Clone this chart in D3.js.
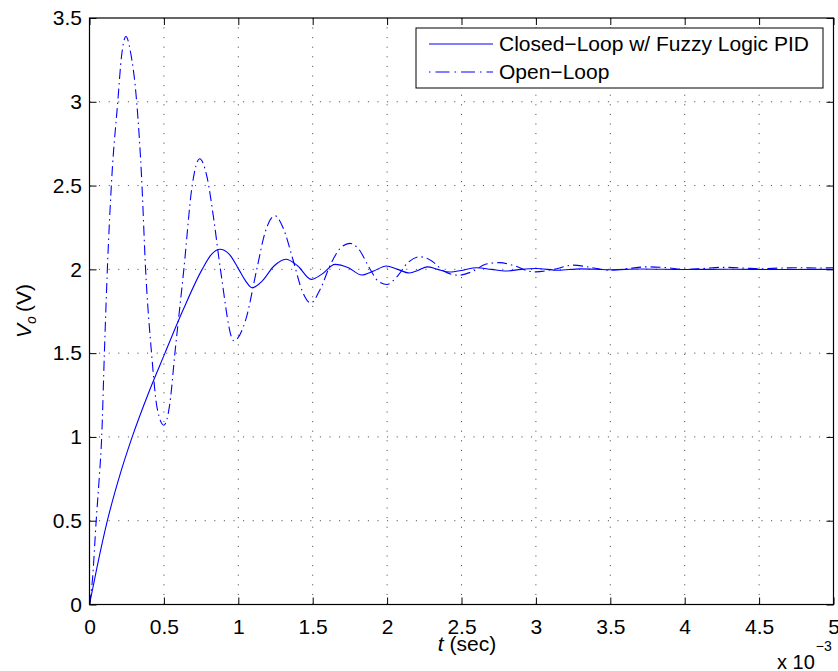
<!DOCTYPE html>
<html>
<head>
<meta charset="utf-8">
<script src="https://cdn.jsdelivr.net/npm/d3@7"></script>
<style>
  body { margin: 0; background: #fff; overflow: hidden; }
  svg { display: block; }
  text { font-family: "Liberation Sans", Arial, Helvetica, sans-serif; fill: #000; }
  .grid line { stroke: #000; stroke-width: 1; stroke-dasharray: 1,8.6; opacity: 0.75; }
</style>
</head>
<body>
<div id="chart"></div>
<script>
// time in units of 1e-3 s
var tClosed = [0, 0.05, 0.12, 0.2, 0.287, 0.4, 0.507, 0.63, 0.757, 0.82, 0.876, 0.94, 1.003, 1.05, 1.093, 1.16, 1.24, 1.32, 1.4, 1.49, 1.56, 1.65, 1.74, 1.83, 1.91, 1.995, 2.07, 2.15, 2.21, 2.27, 2.34, 2.42, 2.51, 2.6, 2.7, 2.8, 2.9, 3.0, 3.15, 3.3, 3.5, 3.7, 4.0, 4.3, 4.6, 5.0];
var vClosed = [0, 0.22, 0.5, 0.76, 1.0, 1.27, 1.5, 1.76, 2.0, 2.09, 2.12, 2.09, 2.0, 1.93, 1.89, 1.93, 2.02, 2.06, 2.02, 1.94, 1.97, 2.03, 2.01, 1.966, 1.99, 2.02, 2.0, 1.978, 1.995, 2.015, 2.0, 1.984, 1.995, 2.01, 2.0, 1.99, 2.0, 2.005, 1.995, 2.003, 1.998, 2.002, 1.999, 2.001, 1.999, 2.0];

var tOpen = [0, 0.02, 0.045, 0.065, 0.082, 0.1, 0.12, 0.15, 0.19, 0.215, 0.245, 0.275, 0.317, 0.35, 0.377, 0.417, 0.455, 0.5, 0.54, 0.574, 0.634, 0.69, 0.74, 0.79, 0.835, 0.88, 0.97, 1.05, 1.124, 1.18, 1.245, 1.3, 1.37, 1.43, 1.487, 1.55, 1.62, 1.69, 1.75, 1.81, 1.88, 1.94, 2.0, 2.06, 2.14, 2.22, 2.3, 2.38, 2.48, 2.58, 2.66, 2.755, 2.86, 2.95, 3.0, 3.12, 3.25, 3.38, 3.5, 3.62, 3.75, 3.88, 4.0, 4.12, 4.25, 4.4, 4.5, 4.65, 4.75, 4.9, 5.0];
var vOpen = [0, 0.15, 0.5, 0.75, 1.0, 1.5, 2.0, 2.55, 3.0, 3.27, 3.39, 3.3, 3.0, 2.55, 2.0, 1.5, 1.17, 1.07, 1.2, 1.5, 2.0, 2.5, 2.66, 2.55, 2.3, 2.0, 1.574, 1.7, 2.0, 2.22, 2.32, 2.25, 2.05, 1.87, 1.8, 1.88, 2.03, 2.13, 2.155, 2.12, 2.01, 1.93, 1.91, 1.95, 2.04, 2.075, 2.05, 1.99, 1.965, 1.99, 2.03, 2.04, 2.02, 1.99, 1.985, 2.0, 2.025, 2.01, 1.995, 2.005, 2.015, 2.01, 2.0, 2.005, 2.012, 2.008, 2.003, 2.008, 2.01, 2.008, 2.01];

var xTicks = [0, 0.5, 1, 1.5, 2, 2.5, 3, 3.5, 4, 4.5, 5];
var yTicks = [0, 0.5, 1, 1.5, 2, 2.5, 3, 3.5];
var seriesNames = ["Closed\u2212Loop w/ Fuzzy Logic PID", "Open\u2212Loop"];

var svgWidth = 838, svgHeight = 671;
var margin = {top: 18, right: 4.5, bottom: 66.5, left: 89.5};
var innerWidth = svgWidth - margin.left - margin.right;
var innerHeight = svgHeight - margin.top - margin.bottom;
var fontSize = "21px";

var xScale = d3.scaleLinear().domain([0, 5]).range([0, innerWidth]);
var yScale = d3.scaleLinear().domain([0, 3.5]).range([innerHeight, 0]);

var svg = d3.select("#chart").append("svg")
    .attr("width", svgWidth)
    .attr("height", svgHeight);

var g = svg.append("g")
    .attr("transform", "translate(" + margin.left + "," + margin.top + ")");

// dotted grid, not on the box edges
var grid = g.append("g").attr("class", "grid");
grid.selectAll(".vx")
    .data(xTicks.filter(function(d){ return d > 0 && d < 5; }))
    .enter().append("line")
    .attr("x1", function(d){ return xScale(d); })
    .attr("x2", function(d){ return xScale(d); })
    .attr("y1", innerHeight)
    .attr("y2", 0);
grid.selectAll(".hy")
    .data(yTicks.filter(function(d){ return d > 0 && d < 3.5; }))
    .enter().append("line")
    .attr("x1", 0)
    .attr("x2", innerWidth)
    .attr("y1", function(d){ return yScale(d); })
    .attr("y2", function(d){ return yScale(d); });

g.append("clipPath").attr("id", "clip")
  .append("rect").attr("width", innerWidth).attr("height", innerHeight);

var line = d3.line()
    .x(function(d){ return xScale(d[0]); })
    .y(function(d){ return yScale(d[1]); })
    .curve(d3.curveMonotoneX);

var closedData = tClosed.map(function(t, i){ return [t, vClosed[i]]; });
var openData = tOpen.map(function(t, i){ return [t, vOpen[i]]; });

g.append("path")
    .datum(openData)
    .attr("clip-path", "url(#clip)")
    .attr("d", line)
    .attr("fill", "none")
    .attr("stroke", "#0000ff")
    .attr("stroke-width", 1.1)
    .attr("stroke-dasharray", "10,4,1.5,4");

g.append("path")
    .datum(closedData)
    .attr("clip-path", "url(#clip)")
    .attr("d", line)
    .attr("fill", "none")
    .attr("stroke", "#0000ff")
    .attr("stroke-width", 1.1);

// axes with inward ticks on all four sides
function styleAxis(sel) {
    sel.select(".domain").remove();
    sel.selectAll("line").attr("stroke", "#000");
    sel.selectAll("text")
        .style("font-size", fontSize)
        .attr("fill", "#000");
}

g.append("g")
    .attr("transform", "translate(0," + innerHeight + ")")
    .call(d3.axisBottom(xScale).tickValues(xTicks).tickSize(-7).tickPadding(15).tickFormat(d3.format("")))
    .call(styleAxis);

g.append("g")
    .call(d3.axisLeft(yScale).tickValues(yTicks).tickSize(-7).tickPadding(7.5).tickFormat(d3.format("")))
    .call(styleAxis);

// top and right: ticks only
g.append("g")
    .call(d3.axisTop(xScale).tickValues(xTicks).tickSize(-7).tickFormat(""))
    .call(function(sel){ sel.selectAll("text").remove(); })
    .call(styleAxis);

g.append("g")
    .attr("transform", "translate(" + innerWidth + ",0)")
    .call(d3.axisRight(yScale).tickValues(yTicks).tickSize(-7).tickFormat(""))
    .call(function(sel){ sel.selectAll("text").remove(); })
    .call(styleAxis);

g.append("rect")
    .attr("width", innerWidth)
    .attr("height", innerHeight)
    .attr("fill", "none")
    .attr("stroke", "#000")
    .attr("stroke-width", 1.2);

// labels
var xLab = svg.append("text")
    .attr("x", 467)
    .attr("y", 651)
    .attr("text-anchor", "middle")
    .style("font-size", fontSize);
xLab.append("tspan").attr("font-style", "italic").text("t");
xLab.append("tspan").text(" (sec)");

var mult = svg.append("text")
    .attr("x", 777)
    .attr("y", 669)
    .style("font-size", "20px");
mult.append("tspan").text("x 10");
mult.append("tspan")
    .attr("dy", -18)
    .attr("dx", 1)
    .style("font-size", "14px")
    .text("\u22123");

var yLab = svg.append("text")
    .attr("transform", "translate(31,311) rotate(-90)")
    .attr("text-anchor", "middle")
    .style("font-size", fontSize);
yLab.append("tspan").attr("font-style", "italic").text("V");
yLab.append("tspan").attr("dy", 5).style("font-size", "14px").attr("font-style", "italic").text("o");
yLab.append("tspan").attr("dy", -5).attr("dx", 4).text("(V)");

// legend
var legend = svg.append("g").attr("transform", "translate(416,28)");
legend.append("rect")
    .attr("width", 407)
    .attr("height", 60)
    .attr("fill", "#fff")
    .attr("stroke", "#000")
    .attr("stroke-width", 1);

var legendItems = legend.selectAll(".item")
    .data(seriesNames)
    .enter().append("g")
    .attr("transform", function(d, i){ return "translate(0," + (16 + i * 28) + ")"; });

legendItems.append("line")
    .attr("x1", 13)
    .attr("x2", 77)
    .attr("stroke", "#0000ff")
    .attr("stroke-width", 1.1)
    .attr("stroke-dasharray", function(d, i){ return i == 1 ? "1.5,5,14,5" : null; });

legendItems.append("text")
    .attr("x", 83)
    .attr("dy", "0.35em")
    .style("font-size", fontSize)
    .text(function(d){ return d; });
</script>
</body>
</html>
